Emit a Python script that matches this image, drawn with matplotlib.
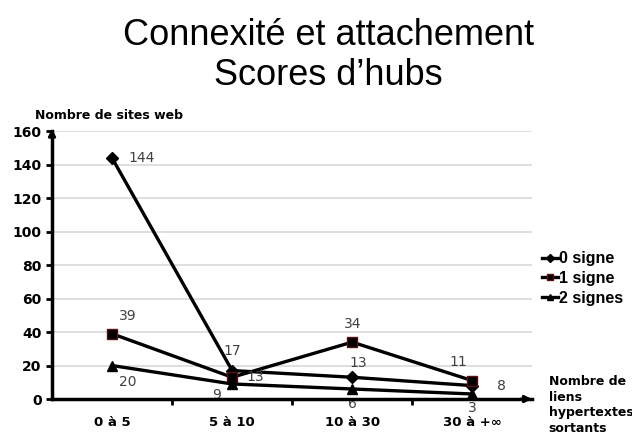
import numpy as np
import matplotlib.pyplot as plt

# data
categories = ['0 à 5', '5 à 10', '10 à 30', '30 à +∞']
zero_signe = [144, 17, 13, 8]
un_signe = [39, 13, 34, 11]
deux_signes = [20, 9, 6, 3]

fig = plt.figure(figsize=(6.32, 4.34), dpi=100)
ax = fig.add_axes([0.0823, 0.0806, 0.76, 0.617])

x = np.arange(len(categories))
ax.plot(x, zero_signe, color='black', lw=2.4, marker='D', ms=6, label='0 signe', zorder=3)
ax.plot(x, un_signe, color='black', lw=2.4, marker='s', ms=7, mfc='black', mec='#5a1010', label='1 signe', zorder=3)
ax.plot(x, deux_signes, color='black', lw=2.4, marker='^', ms=7, label='2 signes', zorder=3)

# data labels
lab = dict(fontsize=10, color='#404040', family='DejaVu Sans')
offsets0 = [(12, 0, 'left', 'center'), (0, 9, 'center', 'bottom'), (4, 5, 'center', 'bottom'), (18, 0, 'left', 'center')]
offsets1 = [(5, 8, 'left', 'bottom'), (10, 0, 'left', 'center'), (0, 8, 'center', 'bottom'), (-10, 8, 'center', 'bottom')]
offsets2 = [(5, -7, 'left', 'top'), (-8, -3, 'right', 'top'), (0, -6, 'center', 'top'), (0, -5, 'center', 'top')]
for vals, offs in [(zero_signe, offsets0), (un_signe, offsets1), (deux_signes, offsets2)]:
    for xi, v, (dx, dy, ha, va) in zip(x, vals, offs):
        ax.annotate(str(v), (xi, v), xytext=(dx, dy), textcoords='offset points',
                    ha=ha, va=va, **lab)

ax.set_xlim(-0.5, 3.5)
ax.set_ylim(0, 160)
ax.set_yticks(range(0, 161, 20))
ax.set_xticks(x)
ax.set_xticklabels(categories, fontweight='bold', fontsize=9.5)
ax.set_xticks([0.5, 1.5, 2.5], minor=True)
ax.tick_params(axis='x', which='major', length=0, pad=12)
ax.tick_params(axis='x', which='minor', length=4, width=2, direction='out')
ax.tick_params(axis='y', length=4, width=2, labelsize=10)
for t in ax.get_yticklabels():
    t.set_fontweight('bold')
ax.grid(axis='y', color='#d9d9d9', lw=1.2)
ax.set_axisbelow(True)

for s in ['top', 'right']:
    ax.spines[s].set_visible(False)
for s in ['left', 'bottom']:
    ax.spines[s].set_linewidth(2.5)
    ax.spines[s].set_zorder(4)

# axis arrows
ax.annotate('', xy=(0, 1.02), xytext=(0, 0.97), xycoords='axes fraction',
            arrowprops=dict(arrowstyle='-|>', color='black', lw=2, mutation_scale=10))
ax.annotate('', xy=(1.005, 0), xytext=(0.97, 0), xycoords='axes fraction',
            arrowprops=dict(arrowstyle='-|>', color='black', lw=2, mutation_scale=10))

fig.text(0.055, 0.725, 'Nombre de sites web', fontsize=9, fontweight='bold')
fig.text(0.868, 0.005, 'Nombre de\nliens\nhypertextes\nsortants', fontsize=9,
         fontweight='bold', linespacing=1.25)

ax.legend(loc='center left', bbox_to_anchor=(0.99, 0.45), frameon=False,
          prop={'family': 'Liberation Sans', 'size': 11.5, 'weight': 'bold'},
          handlelength=1.0, handletextpad=0.05, labelspacing=0.3,
          markerscale=0.7)

fig.text(0.52, 0.918, 'Connexité et attachement', ha='center', va='center',
         fontsize=26, family='Liberation Sans')
fig.text(0.52, 0.826, 'Scores d\u2019hubs', ha='center', va='center',
         fontsize=26, family='Liberation Sans')

fig.savefig('out.png', dpi=100)
